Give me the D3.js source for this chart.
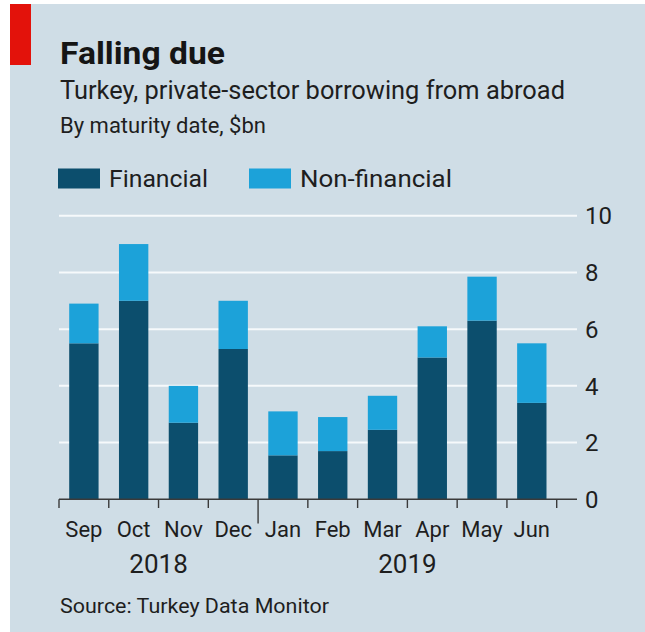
<!DOCTYPE html>
<html>
<head>
<meta charset="utf-8">
<script src="https://cdn.jsdelivr.net/npm/d3@7"></script>
<style>
  html, body { margin: 0; padding: 0; background: #ffffff; }
  svg { display: block; }
  text { font-family: Roboto, "Noto Sans", sans-serif; fill: #1e1e1e; }
</style>
</head>
<body>
<svg id="chart" width="645" height="632"></svg>
<script>
// Turkey, private-sector borrowing from abroad, by maturity date ($bn)
const months = ["Sep", "Oct", "Nov", "Dec", "Jan", "Feb", "Mar", "Apr", "May", "Jun"];
const financial = [5.5, 7.0, 2.7, 5.3, 1.55, 1.7, 2.45, 5.0, 6.3, 3.4];
const nonFinancial = [1.4, 2.0, 1.3, 1.7, 1.55, 1.2, 1.2, 1.1, 1.55, 2.1];
const seriesNames = ["Financial", "Non-financial"];
const yTicks = [0, 2, 4, 6, 8, 10];
const years = ["2018", "2019"];
const yearStarts = ["Sep", "Jan"];
const yearEnds = ["Dec", "Jun"];

const colours = { "Financial": "#0c4e6d", "Non-financial": "#1ca2d9" };
const bg = "#cfdde6";

const svg = d3.select("#chart");

// panel background and red tag
svg.append("rect").attr("x", 10).attr("y", 4).attr("width", 635).attr("height", 628).attr("fill", bg);
svg.append("rect").attr("x", 10).attr("y", 4).attr("width", 21).attr("height", 61).attr("fill", "#e3120b");

// headings
svg.append("text").attr("x", 60).attr("y", 63.5)
  .attr("font-size", 32).attr("font-weight", 700)
  .attr("textLength", 165).attr("lengthAdjust", "spacingAndGlyphs")
  .style("fill", "#151515")
  .text("Falling due");
svg.append("text").attr("x", 60).attr("y", 98.5)
  .attr("font-size", 25.5)
  .attr("textLength", 505).attr("lengthAdjust", "spacingAndGlyphs")
  .text("Turkey, private-sector borrowing from abroad");
svg.append("text").attr("x", 60).attr("y", 132.5)
  .attr("font-size", 22)
  .attr("textLength", 206).attr("lengthAdjust", "spacingAndGlyphs")
  .text("By maturity date, $bn");

// legend
const legendX = [58, 249];
const legendW = [99, 152];
seriesNames.forEach((name, i) => {
  svg.append("rect").attr("x", legendX[i]).attr("y", 168.5).attr("width", 42).attr("height", 20)
    .attr("fill", colours[name]);
  svg.append("text").attr("x", legendX[i] + 51).attr("y", 187)
    .attr("font-size", 24)
    .attr("textLength", legendW[i]).attr("lengthAdjust", "spacingAndGlyphs")
    .text(name);
});

// scales
const x = d3.scaleBand().domain(months).range([59, 556.7])
  .paddingInner(0.41).paddingOuter(0.205);
const y = d3.scaleLinear().domain([0, 10]).range([499.3, 215.7]);
const gridRight = 577;

// gridlines
svg.append("g").selectAll("line")
  .data(yTicks.filter(d => d > 0))
  .join("line")
  .attr("x1", 59).attr("x2", gridRight)
  .attr("y1", d => y(d)).attr("y2", d => y(d))
  .attr("stroke", "#f6f9fb").attr("stroke-width", 2);

// y tick labels on the right
svg.append("g").selectAll("text")
  .data(yTicks)
  .join("text")
  .attr("x", 585).attr("y", d => y(d))
  .attr("dy", "0.36em")
  .attr("font-size", 24)
  .text(d => d);

// stacked bars
const table = months.map((m, i) => ({ month: m, "Financial": financial[i], "Non-financial": nonFinancial[i] }));
const stacked = d3.stack().keys(seriesNames)(table);
svg.append("g").selectAll("g")
  .data(stacked)
  .join("g")
  .attr("fill", d => colours[d.key])
  .selectAll("rect")
  .data(d => d)
  .join("rect")
  .attr("x", d => x(d.data.month))
  .attr("width", x.bandwidth())
  .attr("y", d => y(d[1]))
  .attr("height", d => y(d[0]) - y(d[1]));

// baseline and ticks at band edges
const axisColour = "#3a3a3a";
svg.append("line").attr("x1", 59).attr("x2", gridRight)
  .attr("y1", y(0)).attr("y2", y(0))
  .attr("stroke", axisColour).attr("stroke-width", 1.6);
const edges = months.map(m => x(m) - x.step() * x.paddingOuter()).concat([x.range()[1]]);
svg.append("g").selectAll("line")
  .data(edges.map((e, i) => ({ x: e, year: i < months.length && yearStarts.includes(months[i]) && i > 0 })))
  .join("line")
  .attr("x1", d => d.x).attr("x2", d => d.x)
  .attr("y1", y(0)).attr("y2", d => d.year ? 523.5 : 508)
  .attr("stroke", axisColour).attr("stroke-width", 1.4);

// month labels
svg.append("g").selectAll("text")
  .data(months)
  .join("text")
  .attr("x", d => x(d) + x.bandwidth() / 2)
  .attr("y", 536.5)
  .attr("text-anchor", "middle")
  .attr("font-size", 22)
  .text(d => d);

// year labels centred under their months
years.forEach((yr, i) => {
  const x0 = x(yearStarts[i]) - x.step() * x.paddingOuter();
  const x1 = x(yearEnds[i]) + x.bandwidth() + x.step() * x.paddingOuter();
  svg.append("text")
    .attr("x", (x0 + x1) / 2).attr("y", 573)
    .attr("text-anchor", "middle")
    .attr("font-size", 26)
    .text(yr);
});

// source
svg.append("text").attr("x", 60).attr("y", 613)
  .attr("font-size", 21)
  .attr("textLength", 269).attr("lengthAdjust", "spacingAndGlyphs")
  .text("Source: Turkey Data Monitor");
</script>
</body>
</html>
